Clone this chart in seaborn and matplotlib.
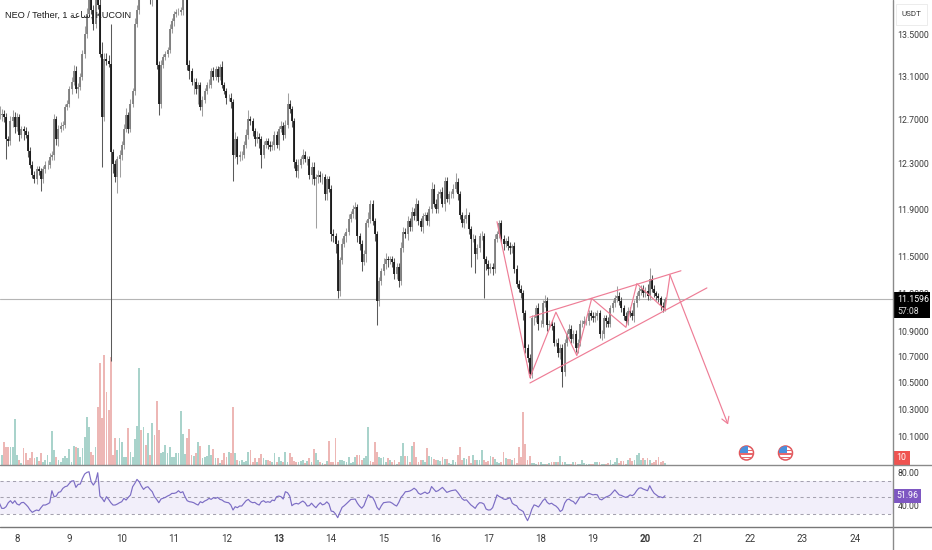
import numpy as np
import pandas as pd
import matplotlib
matplotlib.use("Agg")
import matplotlib.pyplot as plt
from matplotlib.patches import Circle, Rectangle
from matplotlib.ticker import FixedLocator, FixedFormatter, NullLocator
import seaborn as sns

sns.set_style("white")
NARROW = ["Roboto", "Liberation Sans", "DejaVu Sans"]

# hourly closes, USDT
close = [
 12.74,12.75,12.72,12.52,12.50,12.68,12.72,12.63,12.72,12.56,12.61,12.59,12.56,12.41,12.29,12.20,12.16,12.25,12.23,12.16,
 12.25,12.29,12.29,12.36,12.38,12.70,12.52,12.61,12.64,12.65,12.81,12.84,12.98,13.05,13.15,12.98,13.00,13.09,13.31,13.50,
 13.70,13.89,13.74,13.60,13.94,13.79,13.31,12.72,13.26,13.24,13.22,12.40,12.30,12.18,12.34,12.38,12.47,12.61,12.74,12.61,
 12.84,12.96,13.60,13.74,14.04,13.94,14.14,13.94,14.04,13.84,14.09,13.94,13.21,12.84,13.21,13.28,13.31,13.35,13.55,13.63,
 13.70,13.72,13.72,13.74,13.89,13.92,13.21,13.15,13.05,13.05,12.98,13.02,12.81,12.88,12.96,13.02,13.02,13.15,13.09,13.17,
 13.09,13.19,13.02,12.96,12.90,12.90,12.86,12.38,12.52,12.36,12.38,12.38,12.47,12.56,12.70,12.68,12.59,12.52,12.54,12.52,
 12.38,12.47,12.50,12.47,12.45,12.47,12.56,12.47,12.61,12.64,12.56,12.65,12.84,12.79,12.68,12.31,12.23,12.29,12.34,12.38,
 12.34,12.34,12.20,12.27,12.16,12.18,12.20,12.18,12.18,12.03,12.16,12.08,11.69,11.67,11.61,11.22,11.47,11.61,11.67,11.71,
 11.82,11.86,11.90,11.92,11.67,11.61,11.46,11.52,11.78,11.82,11.95,11.80,11.69,11.14,11.30,11.38,11.44,11.48,11.47,11.48,
 11.46,11.36,11.42,11.30,11.57,11.71,11.69,11.80,11.75,11.88,11.84,11.95,11.80,11.75,11.84,11.85,11.80,11.90,12.08,11.95,
 11.90,12.03,12.05,11.95,12.15,11.99,12.03,12.03,12.08,12.14,12.03,11.85,11.78,11.82,11.85,11.73,11.65,11.65,11.52,11.57,
 11.67,11.67,11.48,11.44,11.40,11.42,11.40,11.65,11.69,11.78,11.65,11.61,11.63,11.59,11.57,11.59,11.40,11.28,11.24,11.20,
 11.04,10.77,10.69,10.57,11.00,11.00,11.08,10.96,10.96,11.12,11.14,10.95,10.96,10.94,10.81,10.81,10.73,10.77,10.58,10.81,
 10.88,10.92,10.84,10.88,10.77,10.81,10.96,10.96,10.98,10.98,11.04,11.02,11.00,11.02,11.04,10.88,10.88,11.00,10.98,10.96,
 11.08,11.12,11.16,11.18,11.14,11.08,11.02,10.98,11.06,11.04,11.02,11.12,11.18,11.22,11.24,11.20,11.22,11.18,11.32,11.24,
 11.20,11.18,11.16,11.10,11.08,11.1596]

# upper / lower wick length in US cents
wick_up_cents = [
 8,4,3,4,3,5,6,5,4,3,3,3,4,3,4,3,3,3,3,3,
 3,3,4,3,3,5,3,4,3,3,3,4,3,4,6,5,4,4,4,8,
 6,5,6,5,5,6,8,12,6,6,6,38,3,3,3,4,3,5,6,3,
 5,3,6,5,5,5,5,5,5,5,5,5,4,3,4,3,3,3,5,3,
 3,3,4,3,4,3,8,4,3,3,3,3,3,3,3,3,5,3,4,3,
 3,3,5,3,3,3,4,3,6,3,3,3,3,5,8,3,3,3,5,3,
 3,3,3,3,3,3,3,3,3,4,3,4,10,4,3,3,3,5,3,5,
 3,3,3,4,4,3,4,3,4,3,3,3,3,4,3,3,3,5,3,3,
 4,3,4,4,3,3,3,4,3,6,3,3,3,3,3,3,5,5,3,3,
 3,3,3,3,5,4,3,4,3,4,3,5,3,3,3,3,3,3,6,4,
 4,3,3,4,3,3,3,3,4,8,3,3,3,3,6,3,3,4,3,4,
 3,5,3,3,3,3,3,4,3,3,3,3,3,4,3,2,3,3,3,3,
 3,3,3,3,3,3,3,4,3,3,5,3,3,3,3,3,4,3,3,3,
 3,4,3,3,3,3,3,3,4,3,3,3,3,3,3,3,3,3,3,3,
 3,3,3,8,3,3,3,3,3,3,3,3,3,3,3,3,3,6,9,3,
 3,2,2,2,3,1]
wick_down_cents = [
 4,6,5,18,4,3,5,6,4,6,3,8,3,5,3,3,3,4,3,10,
 3,3,4,3,3,5,5,6,3,4,3,3,3,5,3,4,8,3,3,4,
 3,3,4,6,4,4,3,45,4,3,3,173,8,4,14,16,5,4,3,4,
 3,3,4,3,4,6,5,6,8,4,6,6,4,10,4,3,3,3,3,4,
 5,3,3,3,5,3,5,8,3,12,5,14,3,8,3,3,3,3,3,3,
 4,3,3,3,6,3,6,23,3,6,4,5,3,3,4,3,4,6,4,8,
 12,3,3,4,4,3,5,3,5,3,5,3,3,3,5,5,5,6,3,4,
 3,5,4,8,5,42,5,4,6,5,5,3,6,5,8,6,4,3,3,5,
 3,3,3,8,5,5,8,3,6,3,4,3,6,19,4,3,3,4,5,3,
 4,4,4,5,3,3,3,5,3,3,3,4,3,3,5,3,3,4,3,3,
 3,3,3,3,6,3,4,3,3,3,5,3,3,4,4,4,23,3,15,4,
 3,3,32,5,5,3,5,3,3,3,3,5,3,3,5,4,3,3,3,4,
 5,4,3,3,3,5,3,5,3,3,3,5,3,3,3,3,3,5,11,3,
 3,3,3,3,3,4,3,3,3,3,3,3,3,3,3,3,5,3,5,3,
 3,3,3,3,3,3,3,3,3,3,3,5,3,3,3,3,3,3,3,3,
 3,3,3,3,3,2]

volume = [
 30,30,68,55,55,55,55,138,30,15,5,52,35,15,20,40,20,25,12,35,
 10,15,30,10,102,45,25,15,10,20,28,20,48,10,58,55,50,25,50,85,
 145,115,38,30,55,175,305,140,330,218,165,325,30,80,45,80,68,25,25,110,
 40,25,78,118,290,105,115,60,95,30,125,90,192,105,35,40,60,35,55,25,
 25,35,35,162,92,32,80,108,30,28,35,68,58,20,25,28,60,30,48,20,
 20,5,15,35,25,38,35,175,35,15,12,15,10,12,40,45,10,20,10,22,
 32,20,15,15,12,8,35,8,25,12,8,40,10,35,25,12,10,8,12,15,
 5,12,
 20,10,48,35,15,8,5,3,12,72,10,10,80,8,15,15,12,10,25,5,
 8,25,30,30,15,22,28,115,12,10,70,38,25,20,25,10,20,15,10,15,
 3,8,28,65,28,28,10,58,70,25,10,15,15,10,50,28,25,18,15,15,
 12,25,18,18,5,4,15,8,30,55,15,22,18,28,5,30,15,15,15,45,
 15,10,12,28,25,18,10,5,8,40,20,18,18,15,22,5,55,25,158,62,
 15,28,5,5,3,10,8,3,3,3,5,8,8,10,8,28,8,8,3,2,
 2,8,8,2,2,15,5,3,3,3,3,8,10,8,3,3,3,5,15,3,
 10,22,5,12,12,3,15,22,12,15,30,35,15,20,15,20,15,5,8,15,
 25,8,12,5]
force_red = [48, 170, 191]
force_teal = [7]

rsi = [
 42.8,36.8,36.8,38.8,43.6,46,42.8,46,42,40.8,43.6,44,41.6,38.8,34.8,32,33.6,34.8,34,37.6,
 40.8,40.8,42,43.6,58,50.8,51.6,56,56.8,60.8,62.8,63.6,66.8,69.6,70,62,65.6,66,72.8,78,
 80,80.8,68.8,64.8,68.8,79.6,51.6,48.8,44.8,50.8,47.6,43.6,40.8,40.8,42,43.6,44.8,48.8,46.8,50,
 52.8,62.8,66.8,71.6,68.8,63.6,59.6,62,62.8,59.6,56.8,50.8,47.6,43.6,48,49,50,51.6,52.8,54.8,
 54.8,55.6,58,55.6,56.8,50.8,46,44.8,44.4,43.6,42,40.8,44.8,43.6,45.6,46.8,48.8,47.6,49.6,48.8,
 50,47.6,46.8,44.8,44,43.6,40.8,34.8,38.8,37.6,39.6,39.6,42.8,46,47.6,44.8,43.6,44,42,40.8,
 44.8,46,44,44.8,44,46.8,46,50.8,51.6,50.8,48,56.8,55.6,51.6,40,42,42.8,42,44,45.6,
 43.6,39.6,40,43,40,37.6,41,43.6,41,42,44.6,42,33.5,33,30,25.6,32,38,40,42.4,
 45,47.5,47.8,48,43,39.5,37,40,47,53,51,50,45,38,35,40,43.6,44,44.4,44.4,
 43,41,39.6,44,50,53,56.8,57,57.6,59,61,59,55,53.6,55,56.4,54.5,56,63,60,
 57,58,60,62,59,56,57,58,58.5,59,56,52.4,48.5,46.5,47,44,41,39,36.8,41,
 43.6,43.4,42,36,34.8,35,37.6,45,53,51,49.8,48,47.5,48.6,49.6,43,41,40,36,34.6,
 33,27,22,28,36,41,40,38.4,42,46,48.4,44,42,43,41,39.6,37,33,35,43,
 47,48,46,45,42,46,50.4,50.4,50.4,53,55,54,53,53.5,53,48,47,49,50.5,51.5,
 53,56,59,56,53,52.4,51,50,51,53,52,54,58,61,61.5,60,59,58,64,59,
 55,53,51,50.5,49.6,51.96]

price_ticks = [13.5, 13.1, 12.7, 12.3, 11.9, 11.5, 11.2, 10.9, 10.7, 10.5, 10.3, 10.1]
rsi_ticks = [80, 40]
rsi_bands = [70, 50, 30]
day_labels = list(range(8, 25))
last_price = 11.1596

# drawing: hour index / price
zig_hours = [228, 243.1, 255, 264.6, 271.4, 287.1, 292.1, 305, 307.3, 333.9]
zig_price = [11.795, 10.54, 11.05, 10.71, 11.16, 10.93, 11.28, 11.07, 11.35, 10.19]
upper_hours = [243.1, 312.3]
upper_price = [11.01, 11.385]
lower_hours = [243.1, 324.2]
lower_price = [10.50, 11.245]

n = len(close)
hours = np.arange(n)
c = np.array(close)
o = np.r_[c[0], c[:-1]]
hi = np.maximum(o, c) + np.array(wick_up_cents[:n]) / 100
lo = np.minimum(o, c) - np.array(wick_down_cents[:n]) / 100
up = c >= o

W, H = 932, 550
fig = plt.figure(figsize=(W / 100, H / 100), dpi=100, facecolor="white")
def rect(x0, y0, x1, y1):
    return [x0 / W, 1 - y1 / H, (x1 - x0) / W, (y1 - y0) / H]

XLIM = (0.21, 409.5)
GREY, BLACK = "#7d7d7d", "#161616"
TICK = "#3a3a3a"
LABEL = 6.3

# volume
ax_v = fig.add_axes(rect(0, 0, 893, 465), zorder=1)
m = min(n, len(volume))
side = np.where(up[:m], "up", "down").astype(object)
for i in force_red:
    side[i] = "down"
for i in force_teal:
    side[i] = "up"
dfv = pd.DataFrame({"hour": hours[:m], "vol": volume[:m], "side": side})
sns.barplot(data=dfv, x="hour", y="vol", hue="side", native_scale=True, dodge=False,
            palette={"up": "#a2dacf", "down": "#f6aeac"}, width=0.8, legend=False,
            linewidth=0, ax=ax_v)
ax_v.set_xlim(*XLIM)
ax_v.set_ylim(0, 1395)
ax_v.axis("off")

# price
ax = fig.add_axes(rect(0, 0, 893, 465), zorder=2)
ax.patch.set_visible(False)
ax.set_yscale("log")
ax.axhline(last_price, color="#b5b5b5", lw=0.8, zorder=1)
ax.vlines(hours[up], lo[up], hi[up], color="#a0a0a0", lw=0.75, zorder=2)
ax.vlines(hours[~up], lo[~up], hi[~up], color="#5a5a5a", lw=0.75, zorder=2)
ax.vlines(hours[up], np.minimum(o, c)[up], np.maximum(o, c)[up], color=GREY, lw=1.3, zorder=3)
ax.vlines(hours[~up], np.minimum(o, c)[~up], np.maximum(o, c)[~up], color=BLACK, lw=1.3, zorder=3)
PINK = "#ee7d96"
ax.plot(zig_hours[:-1], zig_price[:-1], color=PINK, lw=0.85, zorder=4)
ax.annotate("", xy=(zig_hours[-1], zig_price[-1]), xytext=(zig_hours[-2], zig_price[-2]),
            arrowprops=dict(arrowstyle="->,head_length=0.5,head_width=0.3", color=PINK, lw=0.85,
                            mutation_scale=9, shrinkA=0, shrinkB=0), zorder=4)
ax.plot(upper_hours, upper_price, color=PINK, lw=0.85, zorder=4)
ax.plot(lower_hours, lower_price, color=PINK, lw=0.85, zorder=4)
ax.set_xlim(*XLIM)
ax.set_ylim(9.897, 13.84)
ax.xaxis.set_visible(False)
ax.yaxis.tick_right()
ax.yaxis.set_major_locator(FixedLocator(price_ticks))
ax.yaxis.set_major_formatter(FixedFormatter([f"{p:.4f}" for p in price_ticks]))
ax.yaxis.set_minor_locator(NullLocator())
ax.tick_params(axis="y", length=0, pad=3.2, labelsize=LABEL, labelcolor=TICK)
for t in ax.get_yticklabels():
    t.set_fontfamily(NARROW)
for s in ax.spines.values():
    s.set_visible(False)

# RSI
ax_r = fig.add_axes(rect(0, 465, 893, 527), zorder=2)
ax_r.axhspan(rsi_bands[2], rsi_bands[0], color="#f2effa", lw=0, zorder=0)
for b in rsi_bands:
    ax_r.axhline(b, color="#a5a2b0", lw=0.75, ls=(0, (3, 3)), zorder=1)
m_r = min(n, len(rsi))
sns.lineplot(x=hours[:m_r], y=rsi[:m_r], color="#7c6dc4", lw=0.85, ax=ax_r, errorbar=None,
             estimator=None, zorder=3)
ax_r.set_xlim(*XLIM)
ax_r.set_ylim(14.4, 88.9)
ax_r.yaxis.tick_right()
ax_r.set_yticks(rsi_ticks)
ax_r.set_yticklabels([f"{v:.2f}" for v in rsi_ticks], family=NARROW, fontsize=LABEL, color=TICK)
day_pos = [8 + 24 * (d - 8) for d in day_labels]
ax_r.set_xticks(day_pos)
ax_r.set_xticklabels([str(d) for d in day_labels], family=NARROW, fontsize=7, color=TICK)
for t, d in zip(ax_r.get_xticklabels(), day_labels):
    if d in (13, 20):
        t.set_fontweight("bold")
ax_r.tick_params(axis="x", length=0, pad=5)
ax_r.tick_params(axis="y", length=0, pad=3.2)
ax_r.set_xlabel("")
ax_r.set_ylabel("")
for s in ax_r.spines.values():
    s.set_visible(False)

# pixel overlay: pane rules, price tags, event flags
ov = fig.add_axes([0, 0, 1, 1], zorder=5)
ov.set_xlim(0, W)
ov.set_ylim(H, 0)
ov.axis("off")
ov.plot([0, W], [465, 465], color="#8a8a8a", lw=1)
ov.plot([0, W], [527, 527], color="#777777", lw=1)
ov.plot([893, 893], [0, H], color="#8a8a8a", lw=1)

ov.add_patch(Rectangle((896, 4), 31, 21, fc="white", ec="#ececec", lw=0.7))
ov.text(911.5, 14.5, "USDT", ha="center", va="center", fontsize=5.8, family=NARROW, color=TICK)
ov.add_patch(Rectangle((893, 292), 37, 26, fc="black", ec="none"))
ov.text(897.5, 299.5, "11.1596", ha="left", va="center", fontsize=LABEL, family=NARROW,
        color="white")
ov.text(897.5, 311.5, "57:08", ha="left", va="center", fontsize=LABEL, family=NARROW, color="#dddddd")
ov.add_patch(Rectangle((893, 451), 17, 14, fc="#ef5350", ec="none"))
ov.text(901.5, 458, "10", ha="center", va="center", fontsize=LABEL, family=NARROW, color="white")
ov.add_patch(Rectangle((893, 489), 28, 14, fc="#7e57c2", ec="none"))
ov.text(907, 496, "51.96", ha="center", va="center", fontsize=LABEL, family=NARROW, color="white")

# title; Arabic word written in presentation forms, visual order, because matplotlib does no shaping
ov.text(5, 15.5, "NEO / Tether, 1 \ufe94\ufecb\ufe8e\ufeb3, KUCOIN", ha="left", va="center",
        fontsize=6.6, family=["Liberation Sans", "DejaVu Sans"], color="#1c1c1c")

for cx in (746.5, 785.5):
    disc = Circle((cx, 453), 7, fc="white", ec="#e0575c", lw=1.1, zorder=6)
    ov.add_patch(disc)
    for yy in (450.5, 454, 457.5):
        r = Rectangle((cx - 7, yy - 0.8), 14, 1.6, fc="#e8686c", ec="none", zorder=7)
        ov.add_patch(r)
        r.set_clip_path(disc)
    b = Rectangle((cx - 7, 446), 8, 7, fc="#4a90dc", ec="none", zorder=8)
    ov.add_patch(b)
    b.set_clip_path(disc)

fig.savefig("out.png", dpi=100, facecolor="white")
print(len(close), len(wick_up_cents), len(wick_down_cents), len(volume), len(rsi))
